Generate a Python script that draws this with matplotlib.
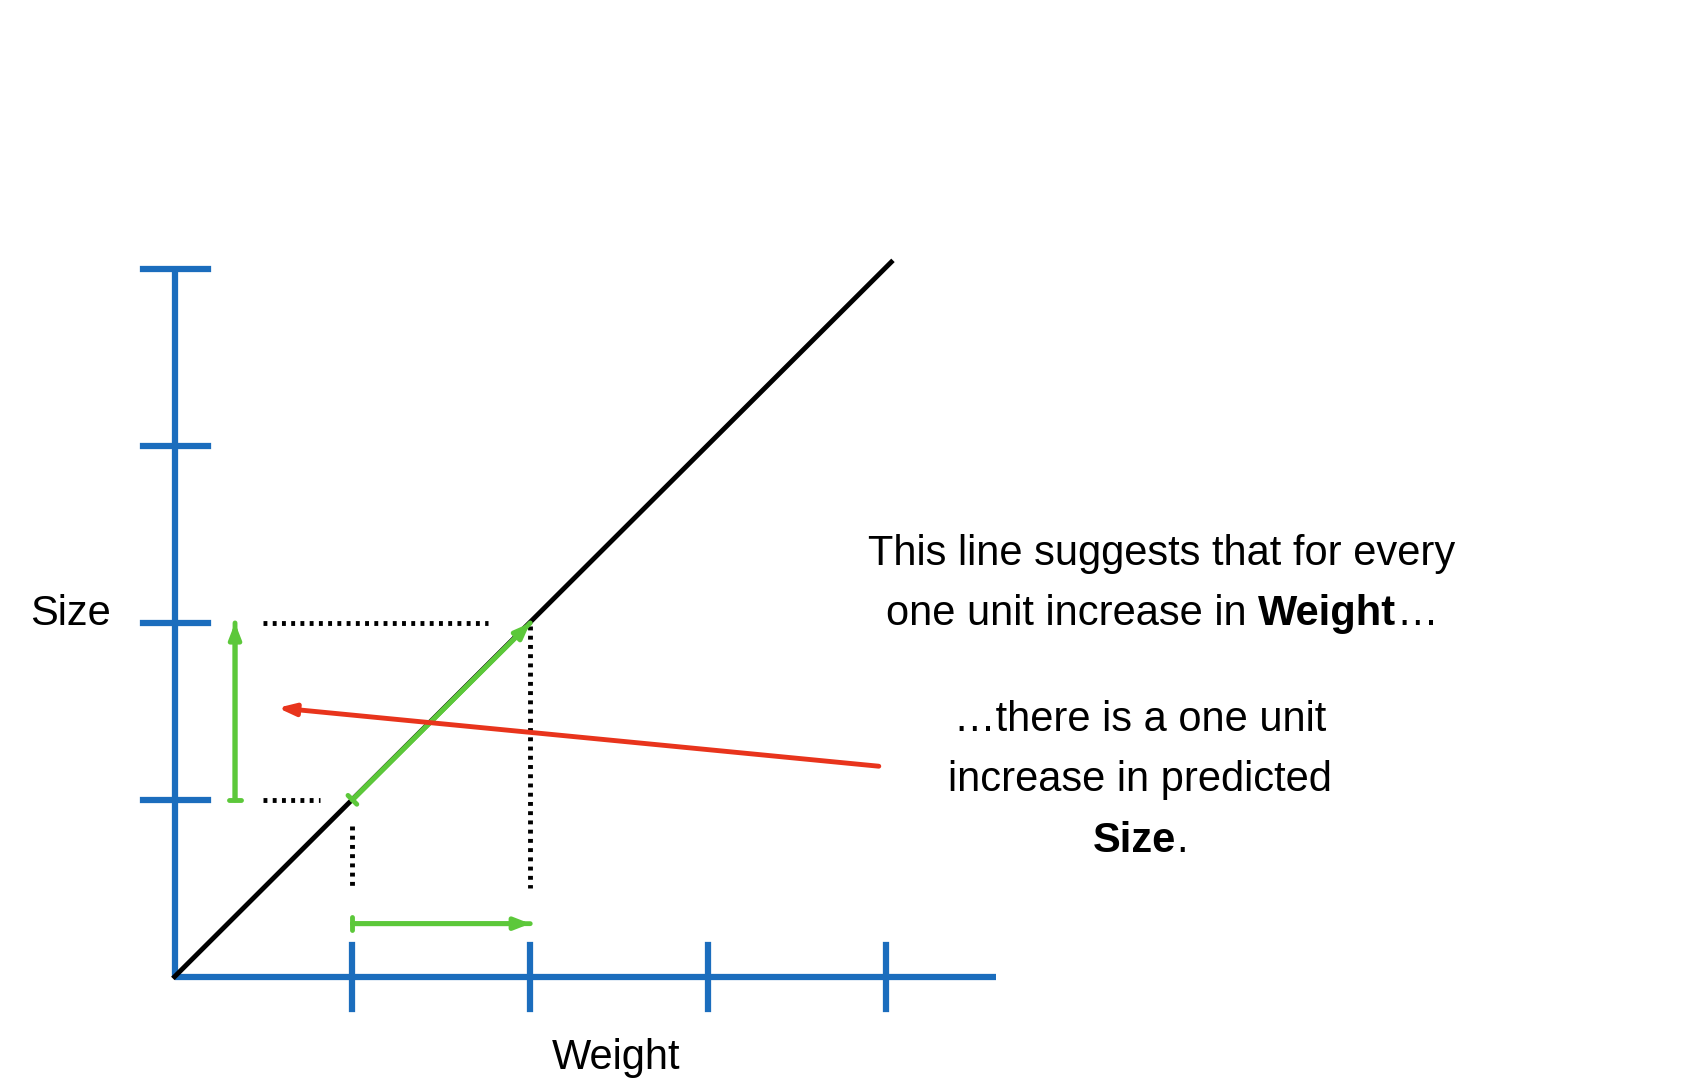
import matplotlib
matplotlib.use("Agg")
import matplotlib.pyplot as plt

plt.rcParams["font.family"] = ["Liberation Sans", "DejaVu Sans"]

BLUE = "#1b6dbd"
GREEN = "#5cc83a"
RED = "#e8341c"

x_ticks = [1, 2, 3, 4]
y_ticks = [1, 2, 3, 4]
fit_line = ([0, 4.03], [0, 4.04])
step_start = (1, 1)
step_end = (2, 2)
red_arrow = ((3.96, 1.19), (0.58, 1.52))

text_top = [[("This line suggests that for every", "normal")],
            [("one unit increase in ", "normal"), ("Weight", "bold"), ("…", "normal")]]
text_bottom = [[("…there is a one unit", "normal")],
               [("increase in predicted", "normal")],
               [("Size", "bold"), (".", "normal")]]

fig = plt.figure(figsize=(17.02, 10.82), dpi=100)
ax = fig.add_axes([0, 0, 1, 1])
ax.set_xlim(-160 / 163, 1400 / 163)
ax.set_ylim(-97 / 163, 900 / 163)
ax.axis("off")

# axes
ax.plot([0, 4.62], [0, 0], color=BLUE, lw=4.5, solid_capstyle="butt")
ax.plot([0, 0], [0, 4.01], color=BLUE, lw=4.5, solid_capstyle="butt")
for t in x_ticks:
    ax.plot([t, t], [-0.18, 0.18], color=BLUE, lw=4.5)
for t in y_ticks:
    ax.plot([-0.18, 0.19], [t, t], color=BLUE, lw=4.5)

ax.plot(*fit_line, color="black", lw=3.5)

# dotted guides
dot = dict(color="black", lw=3.5, linestyle=(0, (0.8, 1.1)))
ax.plot([0.5, 1.76], [2, 2], **dot)
ax.plot([0.5, 0.82], [1, 1], **dot)
ax.plot([2, 2], [1.98, 0.5], **dot)
ax.plot([1, 1], [0.85, 0.5], **dot)


def green(p0, p1):
    ax.annotate("", xy=p1, xytext=p0,
                arrowprops=dict(arrowstyle="-|>,head_length=0.9,head_width=0.35",
                                color=GREEN, lw=3.5, shrinkA=0, shrinkB=0))
    ax.annotate("", xy=p1, xytext=p0,
                arrowprops=dict(arrowstyle="|-|,widthA=0.45,widthB=0", color=GREEN, lw=3.5,
                                shrinkA=0, shrinkB=0))


green(step_start, step_end)
green((0.34, step_start[1]), (0.34, step_end[1]))
green((step_start[0], 0.3), (step_end[0], 0.3))

ax.annotate("", xy=red_arrow[1], xytext=red_arrow[0],
            arrowprops=dict(arrowstyle="-|>,head_length=1.0,head_width=0.35",
                            color=RED, lw=3.5, shrinkA=0, shrinkB=0))

fs = 30
ax.text(-0.36, 2.05, "Size", fontsize=fs, ha="right", va="center")
ax.text(2.48, -0.46, "Weight", fontsize=fs, ha="center", va="center")

fig.canvas.draw()
renderer = fig.canvas.get_renderer()
inv = ax.transData.inverted()


def mixed_line(xc, y, parts):
    objs = [ax.text(0, y, s, fontsize=fs, fontweight=w, va="center") for s, w in parts]
    widths = []
    for o in objs:
        bb = o.get_window_extent(renderer)
        widths.append(inv.transform((bb.x1, 0))[0] - inv.transform((bb.x0, 0))[0])
    x = xc - sum(widths) / 2
    for o, w in zip(objs, widths):
        o.set_x(x)
        x += w


for line, y in zip(text_top, [2.39, 2.05]):
    mixed_line(5.55, y, line)
for line, y in zip(text_bottom, [1.45, 1.11, 0.77]):
    mixed_line(5.43, y, line)

fig.savefig("out.png", dpi=100)
